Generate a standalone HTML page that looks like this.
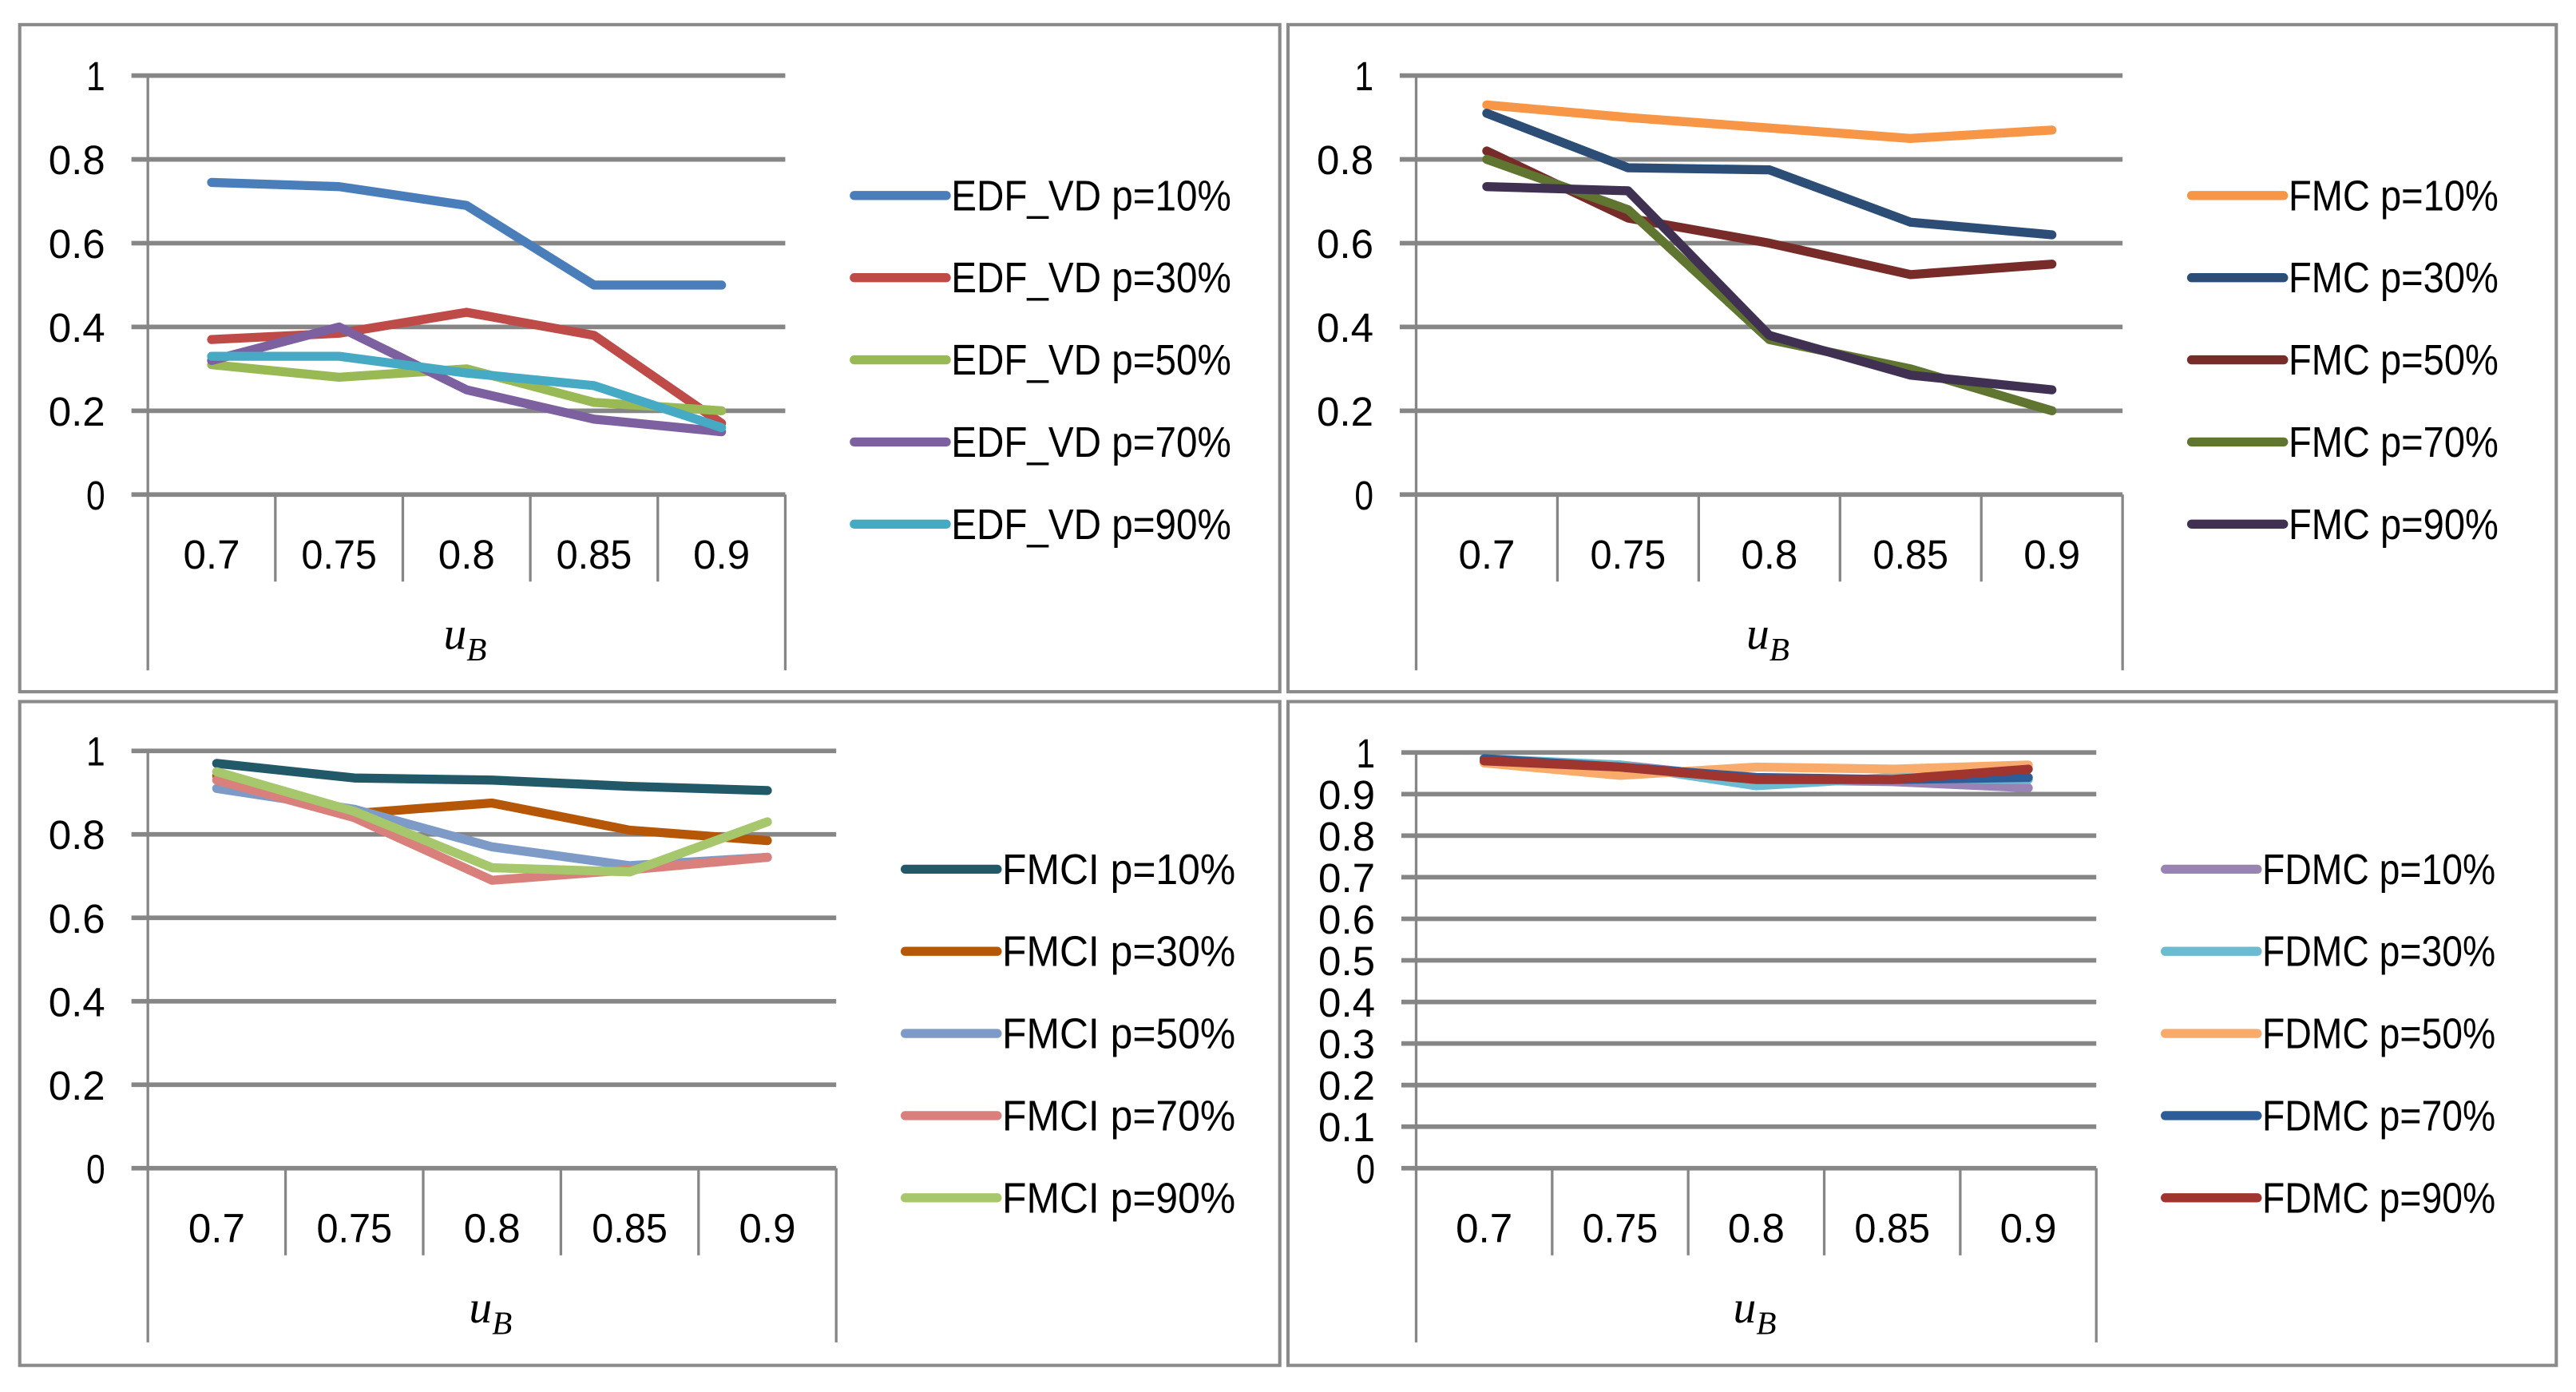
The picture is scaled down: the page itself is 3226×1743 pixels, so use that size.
<!DOCTYPE html>
<html><head><meta charset="utf-8"><style>
html,body{margin:0;padding:0;background:#fff}
svg{display:block}
text{font-family:"Liberation Sans",sans-serif;fill:#000}
text.ub{font-family:"Liberation Serif",serif;font-style:italic}
</style></head><body>
<svg id="fig" width="3226" height="1743" viewBox="0 0 1568 847.2" preserveAspectRatio="none" xmlns="http://www.w3.org/2000/svg"></svg>
<script>
const categories = ["0.7","0.75","0.8","0.85","0.9"];
const edfNames = ["EDF_VD p=10%","EDF_VD p=30%","EDF_VD p=50%","EDF_VD p=70%","EDF_VD p=90%"];
const edfP10 = [0.745,0.735,0.69,0.50,0.50];
const edfP30 = [0.37,0.385,0.435,0.38,0.17];
const edfP50 = [0.31,0.28,0.30,0.22,0.20];
const edfP70 = [0.32,0.40,0.25,0.18,0.15];
const edfP90 = [0.33,0.33,0.29,0.26,0.16];
const fmcNames = ["FMC p=10%","FMC p=30%","FMC p=50%","FMC p=70%","FMC p=90%"];
const fmcP10 = [0.93,0.90,0.875,0.85,0.87];
const fmcP30 = [0.91,0.78,0.775,0.65,0.62];
const fmcP50 = [0.82,0.66,0.60,0.525,0.55];
const fmcP70 = [0.80,0.68,0.37,0.30,0.20];
const fmcP90 = [0.735,0.725,0.38,0.285,0.25];
const fmciNames = ["FMCI p=10%","FMCI p=30%","FMCI p=50%","FMCI p=70%","FMCI p=90%"];
const fmciP10 = [0.97,0.935,0.93,0.915,0.905];
const fmciP30 = [0.94,0.85,0.875,0.81,0.785];
const fmciP50 = [0.91,0.86,0.77,0.725,0.745];
const fmciP70 = [0.93,0.84,0.69,0.715,0.745];
const fmciP90 = [0.95,0.855,0.72,0.71,0.83];
const fdmcNames = ["FDMC p=10%","FDMC p=30%","FDMC p=50%","FDMC p=70%","FDMC p=90%"];
const fdmcP10 = [0.98,0.97,0.935,0.93,0.915];
const fdmcP30 = [0.985,0.97,0.92,0.94,0.935];
const fdmcP50 = [0.975,0.945,0.965,0.96,0.97];
const fdmcP70 = [0.985,0.965,0.94,0.935,0.94];
const fdmcP90 = [0.98,0.965,0.935,0.935,0.96];
const ticks5 = ["0","0.2","0.4","0.6","0.8","1"];
const ticks10 = ["0","0.1","0.2","0.3","0.4","0.5","0.6","0.7","0.8","0.9","1"];

const NS="http://www.w3.org/2000/svg";
const svg=document.getElementById('fig');
function mk(tag,attrs,parent){const e=document.createElementNS(NS,tag);for(const k in attrs)e.setAttribute(k,attrs[k]);(parent||svg).appendChild(e);return e;}

const panels=[
 {id:'edf',box:[12,15,779,421],x0:90,x1:478,gx:80,y0:301,y1:46,tickBot:354,axBot:408,legX:520,legY:119,ticks:ticks5,names:edfNames,series:[edfP10,edfP30,edfP50,edfP70,edfP90],colors:["#4A7EBB","#BE4B48","#98B954","#7D60A0","#46AAC5"]},
 {id:'fmc',box:[784,15,1556,421],x0:862,x1:1292,gx:852,y0:301,y1:46,tickBot:354,axBot:408,legX:1334,legY:119,ticks:ticks5,names:fmcNames,series:[fmcP10,fmcP30,fmcP50,fmcP70,fmcP90],colors:["#F79646","#2C4D75","#772C2A","#5F7530","#403152"]},
 {id:'fmci',box:[12,427,779,831],x0:90,x1:509,gx:80,y0:711,y1:457,tickBot:764,axBot:817,legX:551,legY:529,ticks:ticks5,names:fmciNames,series:[fmciP10,fmciP30,fmciP50,fmciP70,fmciP90],colors:["#215968","#B65708","#7E9BC8","#D9807D","#A6C76C"]},
 {id:'fdmc',box:[784,427,1556,831],x0:862,x1:1276,gx:853,y0:711,y1:458,tickBot:764,axBot:817,legX:1318,legY:529,ticks:ticks10,names:fdmcNames,series:[fdmcP10,fdmcP30,fdmcP50,fdmcP70,fdmcP90],colors:["#9983B5","#6BBBD1","#F9AB6C","#2C5D98","#A0342F"]}
];

panels.forEach(p=>{
  const g=mk('g',{});
  
  
  const b=p.box;
  const frame=mk('rect',{x:b[0],y:b[1],width:b[2]-b[0],height:b[3]-b[1],fill:'none',stroke:'#8a8a8a','stroke-width':2},g);
  
  
  const n=categories.length, cw=(p.x1-p.x0)/n;
  const xS=i=>p.x0+cw*(i+0.5);
  const yS=v=>p.y0-(p.y0-p.y1)*v;
  const nt=p.ticks.length-1;
  p.ticks.forEach((t,i)=>{
    const v=i/nt, y=yS(v);
    const gl=mk('line',{x1:p.gx,x2:p.x1,y1:y,y2:y,stroke:'#868686','stroke-width':2.8},g);
    
    
    const tl=mk('text',{x:p.gx-16,y:y+9,'font-size':25,'text-anchor':'end',textLength:t.length*11.5,lengthAdjust:'spacingAndGlyphs'},g);
    tl.textContent=t;
    
    
  });
  const ax=mk('line',{x1:p.x0,x2:p.x0,y1:p.y1,y2:p.axBot,stroke:'#868686','stroke-width':1.6},g);
  
  
  const ax2=mk('line',{x1:p.x1,x2:p.x1,y1:p.y0,y2:p.axBot,stroke:'#868686','stroke-width':1.6},g);
  
  
  for(let i=1;i<n;i++){
    const x=p.x0+cw*i;
    const tk=mk('line',{x1:x,x2:x,y1:p.y0,y2:p.tickBot,stroke:'#868686','stroke-width':1.6},g);
    
    
  }
  categories.forEach((c,i)=>{
    const t=mk('text',{x:xS(i),y:p.y0+45,'font-size':25,'text-anchor':'middle',textLength:c.length*11.5,lengthAdjust:'spacingAndGlyphs'},g);
    t.textContent=c;
    
    
  });
  const xt=mk('text',{x:(p.x0+p.x1)/2-14,y:p.y0+94,'font-size':28,'class':'ub'},g);
  xt.textContent='u';
  const sub=mk('tspan',{'font-size':20,dy:7},xt);
  sub.textContent='B';
  
  
  p.series.forEach((s,k)=>{
    const pts=s.map((v,i)=>xS(i)+','+yS(v)).join(' ');
    const pl=mk('polyline',{points:pts,fill:'none',stroke:p.colors[k],'stroke-width':5.5,'stroke-linejoin':'round','stroke-linecap':'round'},g);
    
    
  });
  p.names.forEach((nm,k)=>{
    const y=p.legY+50*k;
    const lg=mk('g',{},g);
    
    
    mk('line',{x1:p.legX,x2:p.legX+56,y1:y,y2:y,stroke:p.colors[k],'stroke-width':5.5,'stroke-linecap':'round'},lg);
    const t=mk('text',{x:p.legX+59,y:y+9,'font-size':26,textLength:nm.length*14.2,lengthAdjust:'spacingAndGlyphs'},lg);
    t.textContent=nm;
  });
});
</script>
</body></html>
